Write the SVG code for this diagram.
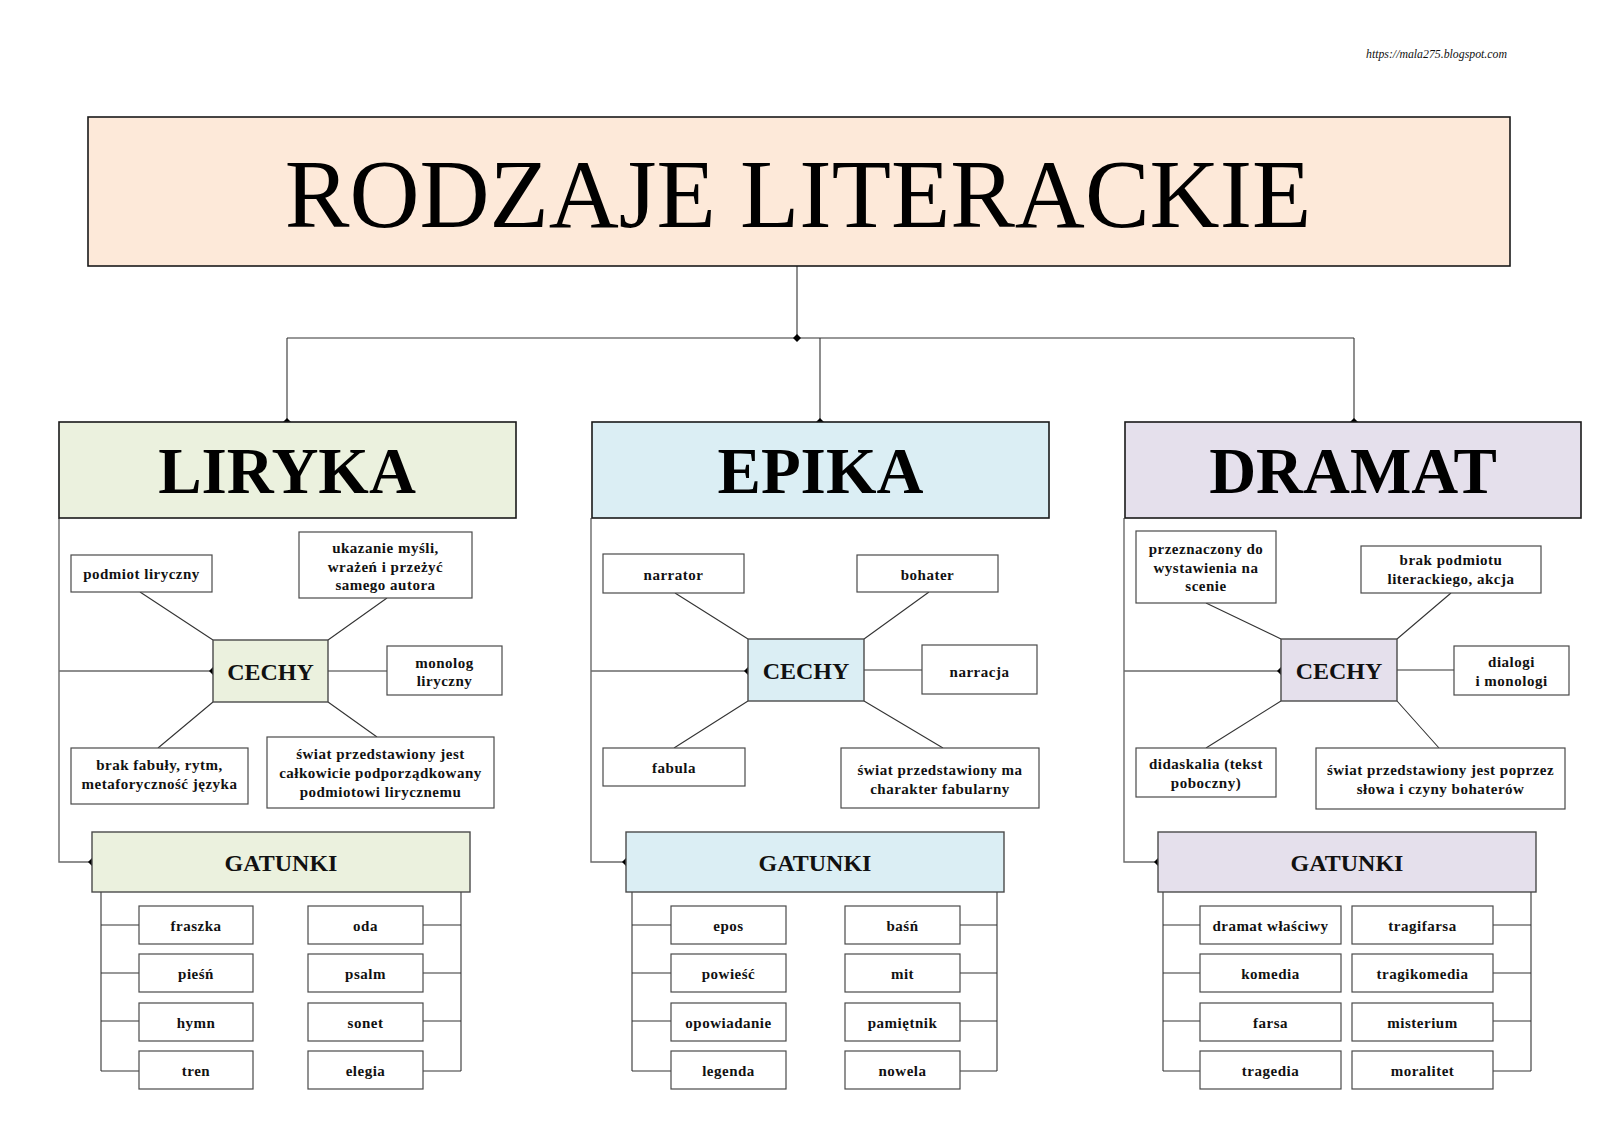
<svg xmlns="http://www.w3.org/2000/svg" xmlns:xlink="http://www.w3.org/1999/xlink" width="1600" height="1131" viewBox="0 0 1600 1131">
<style>
  .bg{fill:#ffffff}
  .main{stroke:#1a1a1a;stroke-width:1.6}
  .box{fill:#ffffff;stroke:#4a4a4a;stroke-width:1.2}
  .cl{fill:#EBF1DE}.ce{fill:#DBEEF4}.cd{fill:#E5E0EC}
  .hub{stroke:#4a4a4a;stroke-width:1.4}
  .ln{fill:none;stroke:#333333;stroke-width:1.1}
  .sp{fill:none;stroke:#6a6a6a;stroke-width:1.4}
  .t{font-family:"Liberation Serif","Times New Roman",serif;font-weight:bold;font-size:15px;letter-spacing:0.5px;fill:#111;text-anchor:middle}
  .h24{font-family:"Liberation Serif","Times New Roman",serif;font-weight:bold;font-size:24px;fill:#111;text-anchor:middle}
  .h65{font-family:"Liberation Serif","Times New Roman",serif;font-weight:bold;font-size:65px;fill:#000;text-anchor:middle}
  .title{font-family:"Liberation Serif","Times New Roman",serif;font-size:97px;fill:#000;text-anchor:middle}
  .url{font-family:"Liberation Serif","Times New Roman",serif;font-style:italic;font-size:11.8px;fill:#111}
</style>
<defs>
  <path id="dia" d="M0,-4 L4,0 L0,4 L-4,0 Z" fill="#000"/>
</defs>
<rect class="bg" x="0" y="0" width="1600" height="1131"/>
<text class="url" x="1366" y="58">https://mala275.blogspot.com</text>

<g id="connectors">
  <path class="ln" d="M797,266 V338 M287,338 H1354 M287,338 V422 M820,338 V422 M1354,338 V422"/>
  <!-- LIRYKA -->
  <path class="sp" d="M59,518 V862 H92 M59,671 H213"/>
  <path class="ln" d="M140,592 L213,640 M387,598 L328,640 M158,748 L213,702 M377,737 L328,702 M328,671 H387"/>
  <path class="ln" d="M101,892 V1071 M461,892 V1071 M101,925 H139 M101,973 H139 M101,1021 H139 M101,1071 H139 M423,925 H461 M423,973 H461 M423,1021 H461 M423,1071 H461"/>
  <!-- EPIKA -->
  <path class="sp" d="M591,518 V862 H626 M591,671 H748"/>
  <path class="ln" d="M675,593 L748,639 M929,592 L864,639 M674,748 L748,701 M943,748 L864,701 M864,670 H922"/>
  <path class="ln" d="M632,892 V1071 M997,892 V1071 M632,925 H671 M632,973 H671 M632,1021 H671 M632,1071 H671 M960,925 H997 M960,973 H997 M960,1021 H997 M960,1071 H997"/>
  <!-- DRAMAT -->
  <path class="sp" d="M1124,518 V862 H1158 M1124,671 H1281"/>
  <path class="ln" d="M1206,603 L1281,639 M1451,593 L1397,639 M1206,748 L1281,701 M1439,748 L1397,701 M1397,670 H1454"/>
  <path class="ln" d="M1163,892 V1071 M1531,892 V1071 M1163,925 H1200 M1163,973 H1200 M1163,1021 H1200 M1163,1071 H1200 M1493,925 H1531 M1493,973 H1531 M1493,1021 H1531 M1493,1071 H1531"/>
  <use xlink:href="#dia" href="#dia" x="797" y="338"/>
  <use xlink:href="#dia" href="#dia" x="287" y="422"/>
  <use xlink:href="#dia" href="#dia" x="820" y="422"/>
  <use xlink:href="#dia" href="#dia" x="1354" y="422"/>
  <use xlink:href="#dia" href="#dia" x="213" y="671"/>
  <use xlink:href="#dia" href="#dia" x="92" y="862"/>
  <use xlink:href="#dia" href="#dia" x="748" y="671"/>
  <use xlink:href="#dia" href="#dia" x="626" y="862"/>
  <use xlink:href="#dia" href="#dia" x="1281" y="671"/>
  <use xlink:href="#dia" href="#dia" x="1158" y="862"/>
</g>

<g id="title">
  <rect class="main" x="88" y="117" width="1422" height="149" fill="#FDE9D9"/>
  <text class="title" x="798" y="227">RODZAJE LITERACKIE</text>
</g>

<!-- LIRYKA -->
<g id="liryka">
  <rect class="main cl" x="59" y="422" width="457" height="96"/>
  <text class="h65" x="287" y="493">LIRYKA</text>
</g>
<g id="liryka-cechy">
  <rect class="hub cl" x="213" y="640" width="115" height="62"/>
  <text class="h24" x="270.5" y="680">CECHY</text>
</g>
<g id="l-podmiot">
  <rect class="box" x="71" y="555" width="141" height="37"/>
  <text class="t" x="141.5" y="579">podmiot liryczny</text>
</g>
<g id="l-ukazanie">
  <rect class="box" x="299" y="532" width="173" height="66"/>
  <text class="t"><tspan x="385.5" y="553">ukazanie myśli,</tspan><tspan x="385.5" y="571.5">wrażeń i przeżyć</tspan><tspan x="385.5" y="590">samego autora</tspan></text>
</g>
<g id="l-monolog">
  <rect class="box" x="387" y="646" width="115" height="49"/>
  <text class="t"><tspan x="444.5" y="667.5">monolog</tspan><tspan x="444.5" y="686">liryczny</tspan></text>
</g>
<g id="l-brak">
  <rect class="box" x="71" y="748" width="177" height="56"/>
  <text class="t"><tspan x="159.5" y="769.5">brak fabuły, rytm,</tspan><tspan x="159.5" y="788.5">metaforyczność języka</tspan></text>
</g>
<g id="l-swiat">
  <rect class="box" x="267" y="737" width="227" height="71"/>
  <text class="t"><tspan x="380.5" y="759">świat przedstawiony jest</tspan><tspan x="380.5" y="778">całkowicie podporządkowany</tspan><tspan x="380.5" y="797">podmiotowi lirycznemu</tspan></text>
</g>
<g id="liryka-gatunki">
  <rect class="hub cl" x="92" y="832" width="378" height="60"/>
  <text class="h24" x="281" y="871">GATUNKI</text>
</g>
<g id="l-fraszka"><rect class="box" x="139" y="906" width="114" height="38"/><text class="t" x="196" y="930.5">fraszka</text></g>
<g id="l-piesn"><rect class="box" x="139" y="954" width="114" height="38"/><text class="t" x="196" y="978.5">pieśń</text></g>
<g id="l-hymn"><rect class="box" x="139" y="1003" width="114" height="38"/><text class="t" x="196" y="1027.5">hymn</text></g>
<g id="l-tren"><rect class="box" x="139" y="1051" width="114" height="38"/><text class="t" x="196" y="1075.5">tren</text></g>
<g id="l-oda"><rect class="box" x="308" y="906" width="115" height="38"/><text class="t" x="365.5" y="930.5">oda</text></g>
<g id="l-psalm"><rect class="box" x="308" y="954" width="115" height="38"/><text class="t" x="365.5" y="978.5">psalm</text></g>
<g id="l-sonet"><rect class="box" x="308" y="1003" width="115" height="38"/><text class="t" x="365.5" y="1027.5">sonet</text></g>
<g id="l-elegia"><rect class="box" x="308" y="1051" width="115" height="38"/><text class="t" x="365.5" y="1075.5">elegia</text></g>

<!-- EPIKA -->
<g id="epika">
  <rect class="main ce" x="592" y="422" width="457" height="96"/>
  <text class="h65" x="820.5" y="493">EPIKA</text>
</g>
<g id="epika-cechy">
  <rect class="hub ce" x="748" y="639" width="116" height="62"/>
  <text class="h24" x="806" y="679">CECHY</text>
</g>
<g id="e-narrator">
  <rect class="box" x="603" y="554" width="141" height="39"/>
  <text class="t" x="673.5" y="580">narrator</text>
</g>
<g id="e-bohater">
  <rect class="box" x="857" y="555" width="141" height="37"/>
  <text class="t" x="927.5" y="580">bohater</text>
</g>
<g id="e-narracja">
  <rect class="box" x="922" y="645" width="115" height="49"/>
  <text class="t" x="979.5" y="676.5">narracja</text>
</g>
<g id="e-fabula">
  <rect class="box" x="603" y="748" width="142" height="38"/>
  <text class="t" x="674" y="773">fabula</text>
</g>
<g id="e-swiat">
  <rect class="box" x="841" y="748" width="198" height="60"/>
  <text class="t"><tspan x="940" y="775">świat przedstawiony ma</tspan><tspan x="940" y="793.5">charakter fabularny</tspan></text>
</g>
<g id="epika-gatunki">
  <rect class="hub ce" x="626" y="832" width="378" height="60"/>
  <text class="h24" x="815" y="871">GATUNKI</text>
</g>
<g id="e-epos"><rect class="box" x="671" y="906" width="115" height="38"/><text class="t" x="728.5" y="930.5">epos</text></g>
<g id="e-powiesc"><rect class="box" x="671" y="954" width="115" height="38"/><text class="t" x="728.5" y="978.5">powieść</text></g>
<g id="e-opowiadanie"><rect class="box" x="671" y="1003" width="115" height="38"/><text class="t" x="728.5" y="1027.5">opowiadanie</text></g>
<g id="e-legenda"><rect class="box" x="671" y="1051" width="115" height="38"/><text class="t" x="728.5" y="1075.5">legenda</text></g>
<g id="e-basn"><rect class="box" x="845" y="906" width="115" height="38"/><text class="t" x="902.5" y="930.5">baśń</text></g>
<g id="e-mit"><rect class="box" x="845" y="954" width="115" height="38"/><text class="t" x="902.5" y="978.5">mit</text></g>
<g id="e-pamietnik"><rect class="box" x="845" y="1003" width="115" height="38"/><text class="t" x="902.5" y="1027.5">pamiętnik</text></g>
<g id="e-nowela"><rect class="box" x="845" y="1051" width="115" height="38"/><text class="t" x="902.5" y="1075.5">nowela</text></g>

<!-- DRAMAT -->
<g id="dramat">
  <rect class="main cd" x="1125" y="422" width="456" height="96"/>
  <text class="h65" x="1353" y="493">DRAMAT</text>
</g>
<g id="dramat-cechy">
  <rect class="hub cd" x="1281" y="639" width="116" height="62"/>
  <text class="h24" x="1339" y="679">CECHY</text>
</g>
<g id="d-przeznaczony">
  <rect class="box" x="1136" y="531" width="140" height="72"/>
  <text class="t"><tspan x="1206" y="554">przeznaczony do</tspan><tspan x="1206" y="572.5">wystawienia na</tspan><tspan x="1206" y="591">scenie</tspan></text>
</g>
<g id="d-brak">
  <rect class="box" x="1361" y="546" width="180" height="47"/>
  <text class="t"><tspan x="1451" y="565">brak podmiotu</tspan><tspan x="1451" y="584">literackiego, akcja</tspan></text>
</g>
<g id="d-dialogi">
  <rect class="box" x="1454" y="646" width="115" height="49"/>
  <text class="t"><tspan x="1511.5" y="667">dialogi</tspan><tspan x="1511.5" y="685.5">i monologi</tspan></text>
</g>
<g id="d-didaskalia">
  <rect class="box" x="1136" y="748" width="140" height="49"/>
  <text class="t"><tspan x="1206" y="768.5">didaskalia (tekst</tspan><tspan x="1206" y="788">poboczny)</tspan></text>
</g>
<g id="d-swiat">
  <rect class="box" x="1316" y="748" width="249" height="61"/>
  <text class="t"><tspan x="1440.5" y="775">świat przedstawiony jest poprzez</tspan><tspan x="1440.5" y="793.5">słowa i czyny bohaterów</tspan></text>
</g>
<g id="dramat-gatunki">
  <rect class="hub cd" x="1158" y="832" width="378" height="60"/>
  <text class="h24" x="1347" y="871">GATUNKI</text>
</g>
<g id="d-dramat-wlasciwy"><rect class="box" x="1200" y="906" width="141" height="38"/><text class="t" x="1270.5" y="930.5">dramat właściwy</text></g>
<g id="d-komedia"><rect class="box" x="1200" y="954" width="141" height="38"/><text class="t" x="1270.5" y="978.5">komedia</text></g>
<g id="d-farsa"><rect class="box" x="1200" y="1003" width="141" height="38"/><text class="t" x="1270.5" y="1027.5">farsa</text></g>
<g id="d-tragedia"><rect class="box" x="1200" y="1051" width="141" height="38"/><text class="t" x="1270.5" y="1075.5">tragedia</text></g>
<g id="d-tragifarsa"><rect class="box" x="1352" y="906" width="141" height="38"/><text class="t" x="1422.5" y="930.5">tragifarsa</text></g>
<g id="d-tragikomedia"><rect class="box" x="1352" y="954" width="141" height="38"/><text class="t" x="1422.5" y="978.5">tragikomedia</text></g>
<g id="d-misterium"><rect class="box" x="1352" y="1003" width="141" height="38"/><text class="t" x="1422.5" y="1027.5">misterium</text></g>
<g id="d-moralitet"><rect class="box" x="1352" y="1051" width="141" height="38"/><text class="t" x="1422.5" y="1075.5">moralitet</text></g>
</svg>
